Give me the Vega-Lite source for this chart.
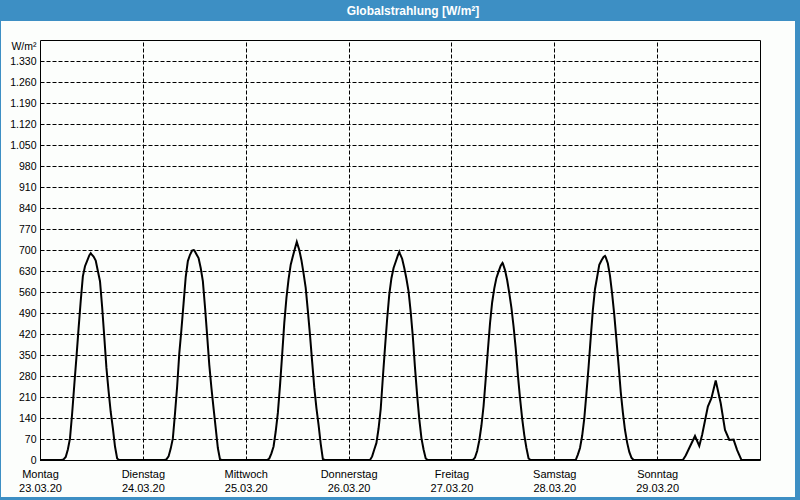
{
  "$schema": "https://vega.github.io/schema/vega-lite/v6.json",
  "autosize": {"type": "none"},
  "padding": {"left": 1, "top": 21, "right": 5, "bottom": 3},
  "width": 794,
  "height": 476,
  "background": "#3d8fc4",
  "title": {"text": "Globalstrahlung [W/m²]", "color": "white", "font": "Liberation Sans", "fontSize": 12, "fontWeight": "bold", "anchor": "middle", "frame": "group", "baseline": "middle", "offset": -2, "dx": 15},
  "data": {"values": [
    {"t": "2020-03-23T00:00", "v": 0},
    {"t": "2020-03-23T05:00", "v": 0}, {"t": "2020-03-23T05:30", "v": 2}, {"t": "2020-03-23T06:00", "v": 10}, {"t": "2020-03-23T06:30", "v": 35},
    {"t": "2020-03-23T07:00", "v": 72}, {"t": "2020-03-23T07:30", "v": 155}, {"t": "2020-03-23T08:00", "v": 250}, {"t": "2020-03-23T08:30", "v": 342},
    {"t": "2020-03-23T09:00", "v": 438}, {"t": "2020-03-23T09:30", "v": 530}, {"t": "2020-03-23T10:00", "v": 612}, {"t": "2020-03-23T10:30", "v": 646},
    {"t": "2020-03-23T11:00", "v": 664}, {"t": "2020-03-23T11:30", "v": 682}, {"t": "2020-03-23T11:50", "v": 689}, {"t": "2020-03-23T12:00", "v": 686},
    {"t": "2020-03-23T12:30", "v": 678}, {"t": "2020-03-23T13:00", "v": 665}, {"t": "2020-03-23T13:30", "v": 630}, {"t": "2020-03-23T14:00", "v": 596},
    {"t": "2020-03-23T14:30", "v": 510}, {"t": "2020-03-23T15:00", "v": 410}, {"t": "2020-03-23T15:30", "v": 307}, {"t": "2020-03-23T16:00", "v": 230},
    {"t": "2020-03-23T16:30", "v": 160}, {"t": "2020-03-23T17:00", "v": 106}, {"t": "2020-03-23T17:30", "v": 45}, {"t": "2020-03-23T18:00", "v": 5},
    {"t": "2020-03-23T18:30", "v": 0},
    {"t": "2020-03-24T05:00", "v": 0}, {"t": "2020-03-24T05:30", "v": 2}, {"t": "2020-03-24T06:00", "v": 12}, {"t": "2020-03-24T06:30", "v": 38},
    {"t": "2020-03-24T07:00", "v": 72}, {"t": "2020-03-24T07:30", "v": 155}, {"t": "2020-03-24T08:00", "v": 245}, {"t": "2020-03-24T08:30", "v": 355},
    {"t": "2020-03-24T09:00", "v": 435}, {"t": "2020-03-24T09:30", "v": 522}, {"t": "2020-03-24T10:00", "v": 610}, {"t": "2020-03-24T10:30", "v": 663},
    {"t": "2020-03-24T11:00", "v": 684}, {"t": "2020-03-24T11:30", "v": 698}, {"t": "2020-03-24T11:50", "v": 700}, {"t": "2020-03-24T12:00", "v": 699},
    {"t": "2020-03-24T12:30", "v": 686}, {"t": "2020-03-24T13:00", "v": 673}, {"t": "2020-03-24T13:30", "v": 640}, {"t": "2020-03-24T14:00", "v": 596},
    {"t": "2020-03-24T14:30", "v": 510}, {"t": "2020-03-24T15:00", "v": 415}, {"t": "2020-03-24T15:30", "v": 317}, {"t": "2020-03-24T16:00", "v": 240},
    {"t": "2020-03-24T16:30", "v": 172}, {"t": "2020-03-24T17:00", "v": 106}, {"t": "2020-03-24T17:30", "v": 40}, {"t": "2020-03-24T18:00", "v": 2},
    {"t": "2020-03-24T18:30", "v": 0},
    {"t": "2020-03-25T05:00", "v": 0}, {"t": "2020-03-25T05:30", "v": 5}, {"t": "2020-03-25T06:00", "v": 22}, {"t": "2020-03-25T06:30", "v": 45},
    {"t": "2020-03-25T07:00", "v": 95}, {"t": "2020-03-25T07:30", "v": 157}, {"t": "2020-03-25T08:00", "v": 248}, {"t": "2020-03-25T08:30", "v": 350},
    {"t": "2020-03-25T09:00", "v": 457}, {"t": "2020-03-25T09:30", "v": 540}, {"t": "2020-03-25T10:00", "v": 603}, {"t": "2020-03-25T10:30", "v": 651},
    {"t": "2020-03-25T11:00", "v": 679}, {"t": "2020-03-25T11:30", "v": 706}, {"t": "2020-03-25T11:55", "v": 727}, {"t": "2020-03-25T12:00", "v": 723},
    {"t": "2020-03-25T12:30", "v": 700}, {"t": "2020-03-25T13:00", "v": 666}, {"t": "2020-03-25T13:30", "v": 622}, {"t": "2020-03-25T14:00", "v": 574},
    {"t": "2020-03-25T14:30", "v": 497}, {"t": "2020-03-25T15:00", "v": 416}, {"t": "2020-03-25T15:30", "v": 328}, {"t": "2020-03-25T16:00", "v": 241},
    {"t": "2020-03-25T16:30", "v": 173}, {"t": "2020-03-25T17:00", "v": 117}, {"t": "2020-03-25T17:30", "v": 54}, {"t": "2020-03-25T18:00", "v": 3},
    {"t": "2020-03-25T18:30", "v": 0},
    {"t": "2020-03-26T05:00", "v": 0}, {"t": "2020-03-26T05:30", "v": 12}, {"t": "2020-03-26T06:00", "v": 35}, {"t": "2020-03-26T06:30", "v": 57},
    {"t": "2020-03-26T07:00", "v": 105}, {"t": "2020-03-26T07:30", "v": 170}, {"t": "2020-03-26T08:00", "v": 275}, {"t": "2020-03-26T08:30", "v": 375},
    {"t": "2020-03-26T09:00", "v": 470}, {"t": "2020-03-26T09:30", "v": 552}, {"t": "2020-03-26T10:00", "v": 606}, {"t": "2020-03-26T10:30", "v": 640},
    {"t": "2020-03-26T11:00", "v": 661}, {"t": "2020-03-26T11:30", "v": 682}, {"t": "2020-03-26T11:50", "v": 694}, {"t": "2020-03-26T12:00", "v": 687},
    {"t": "2020-03-26T12:30", "v": 671}, {"t": "2020-03-26T13:00", "v": 640}, {"t": "2020-03-26T13:30", "v": 604}, {"t": "2020-03-26T14:00", "v": 562},
    {"t": "2020-03-26T14:30", "v": 493}, {"t": "2020-03-26T15:00", "v": 410}, {"t": "2020-03-26T15:30", "v": 307}, {"t": "2020-03-26T16:00", "v": 216},
    {"t": "2020-03-26T16:30", "v": 136}, {"t": "2020-03-26T17:00", "v": 73}, {"t": "2020-03-26T17:30", "v": 35}, {"t": "2020-03-26T18:00", "v": 5},
    {"t": "2020-03-26T18:30", "v": 0},
    {"t": "2020-03-27T05:00", "v": 0}, {"t": "2020-03-27T05:30", "v": 8}, {"t": "2020-03-27T06:00", "v": 30}, {"t": "2020-03-27T06:30", "v": 65},
    {"t": "2020-03-27T07:00", "v": 115}, {"t": "2020-03-27T07:30", "v": 180}, {"t": "2020-03-27T08:00", "v": 270}, {"t": "2020-03-27T08:30", "v": 365},
    {"t": "2020-03-27T09:00", "v": 455}, {"t": "2020-03-27T09:30", "v": 525}, {"t": "2020-03-27T10:00", "v": 572}, {"t": "2020-03-27T10:30", "v": 607},
    {"t": "2020-03-27T11:00", "v": 628}, {"t": "2020-03-27T11:30", "v": 648}, {"t": "2020-03-27T11:55", "v": 657}, {"t": "2020-03-27T12:00", "v": 655},
    {"t": "2020-03-27T12:30", "v": 633}, {"t": "2020-03-27T13:00", "v": 600}, {"t": "2020-03-27T13:30", "v": 556}, {"t": "2020-03-27T14:00", "v": 507},
    {"t": "2020-03-27T14:30", "v": 445}, {"t": "2020-03-27T15:00", "v": 372}, {"t": "2020-03-27T15:30", "v": 284}, {"t": "2020-03-27T16:00", "v": 207},
    {"t": "2020-03-27T16:30", "v": 139}, {"t": "2020-03-27T17:00", "v": 83}, {"t": "2020-03-27T17:30", "v": 40}, {"t": "2020-03-27T18:00", "v": 5},
    {"t": "2020-03-27T18:30", "v": 0},
    {"t": "2020-03-28T05:00", "v": 0}, {"t": "2020-03-28T05:30", "v": 18}, {"t": "2020-03-28T06:00", "v": 40}, {"t": "2020-03-28T06:30", "v": 80},
    {"t": "2020-03-28T07:00", "v": 139}, {"t": "2020-03-28T07:30", "v": 222}, {"t": "2020-03-28T08:00", "v": 310}, {"t": "2020-03-28T08:30", "v": 408},
    {"t": "2020-03-28T09:00", "v": 500}, {"t": "2020-03-28T09:30", "v": 570}, {"t": "2020-03-28T10:00", "v": 610}, {"t": "2020-03-28T10:30", "v": 651},
    {"t": "2020-03-28T11:00", "v": 665}, {"t": "2020-03-28T11:30", "v": 677}, {"t": "2020-03-28T11:50", "v": 680}, {"t": "2020-03-28T12:00", "v": 676},
    {"t": "2020-03-28T12:30", "v": 655}, {"t": "2020-03-28T13:00", "v": 614}, {"t": "2020-03-28T13:30", "v": 554}, {"t": "2020-03-28T14:00", "v": 484},
    {"t": "2020-03-28T14:30", "v": 401}, {"t": "2020-03-28T15:00", "v": 316}, {"t": "2020-03-28T15:30", "v": 228}, {"t": "2020-03-28T16:00", "v": 159},
    {"t": "2020-03-28T16:30", "v": 100}, {"t": "2020-03-28T17:00", "v": 58}, {"t": "2020-03-28T17:30", "v": 27}, {"t": "2020-03-28T18:00", "v": 8},
    {"t": "2020-03-28T18:30", "v": 0},
    {"t": "2020-03-29T06:00", "v": 0}, {"t": "2020-03-29T06:40", "v": 15}, {"t": "2020-03-29T07:50", "v": 50}, {"t": "2020-03-29T08:50", "v": 80},
    {"t": "2020-03-29T09:50", "v": 47}, {"t": "2020-03-29T10:30", "v": 84}, {"t": "2020-03-29T11:50", "v": 178}, {"t": "2020-03-29T12:40", "v": 206},
    {"t": "2020-03-29T13:40", "v": 265}, {"t": "2020-03-29T14:50", "v": 189}, {"t": "2020-03-29T15:50", "v": 100}, {"t": "2020-03-29T16:50", "v": 67},
    {"t": "2020-03-29T17:50", "v": 68}, {"t": "2020-03-29T18:40", "v": 33}, {"t": "2020-03-29T19:40", "v": 0},
    {"t": "2020-03-30T00:00", "v": 0}
  ]},
  "mark": {"type": "line", "color": "black", "strokeWidth": 2},
  "encoding": {
    "x": {
      "field": "t", "type": "temporal",
      "scale": {"domain": [{"year": 2020, "month": 3, "date": 23}, {"year": 2020, "month": 3, "date": 30}], "range": [39, 759], "nice": false},
      "axis": {
        "orient": "top", "offset": -439, "title": null,
        "values": [
          {"year": 2020, "month": 3, "date": 23}, {"year": 2020, "month": 3, "date": 24}, {"year": 2020, "month": 3, "date": 25},
          {"year": 2020, "month": 3, "date": 26}, {"year": 2020, "month": 3, "date": 27}, {"year": 2020, "month": 3, "date": 28},
          {"year": 2020, "month": 3, "date": 29}, {"year": 2020, "month": 3, "date": 30}
        ],
        "labelExpr": "datum.value >= datetime(2020, 2, 29, 12) ? '' : [['Sonntag','Montag','Dienstag','Mittwoch','Donnerstag','Freitag','Samstag'][day(datum.value)], timeFormat(datum.value, '%d.%m.%y')]",
        "ticks": false, "labelPadding": -8, "labelFont": "Liberation Sans", "labelFontSize": 11, "labelLineHeight": 14,
        "labelColor": "black", "labelAlign": "center", "labelBaseline": "top", "labelFlush": false, "labelOverlap": false, "labelBound": false,
        "domainColor": "black", "domainWidth": 1,
        "grid": true, "gridColor": "black", "gridOpacity": 1, "gridWidth": 1,
        "gridDash": {"condition": {"test": "datum.value >= datetime(2020, 2, 29, 12)", "value": []}, "value": [4, 2]}
      }
    },
    "y": {
      "field": "v", "type": "quantitative",
      "scale": {"domain": [0, 1400], "nice": false, "zero": true, "range": [439, 19]},
      "axis": {
        "orient": "left", "offset": -39,
        "values": [0, 70, 140, 210, 280, 350, 420, 490, 560, 630, 700, 770, 840, 910, 980, 1050, 1120, 1190, 1260, 1330, 1400],
        "labelExpr": "datum.value >= 1400 ? '' : replace(format(datum.value, ','), ',', '.')",
        "ticks": false, "labelPadding": 4, "labelFont": "Liberation Sans", "labelFontSize": 10.5, "labelColor": "black",
        "labelOverlap": false, "labelBound": false, "labelBaseline": "middle",
        "domainColor": "black", "domainWidth": 1,
        "grid": true, "gridColor": "black", "gridOpacity": 1, "gridWidth": 1,
        "gridDash": {"condition": {"test": "datum.value >= 1400", "value": []}, "value": [4, 2]},
        "title": "W/m²", "titleAngle": 0, "titleAlign": "right", "titleBaseline": "middle", "titleX": -4, "titleY": 25,
        "titleFont": "Liberation Sans", "titleFontSize": 10.5, "titleFontWeight": "normal", "titleColor": "black"
      }
    }
  },
  "config": {
    "font": "Liberation Sans",
    "view": {"fill": "#fcfefc", "stroke": null}
  }
}
